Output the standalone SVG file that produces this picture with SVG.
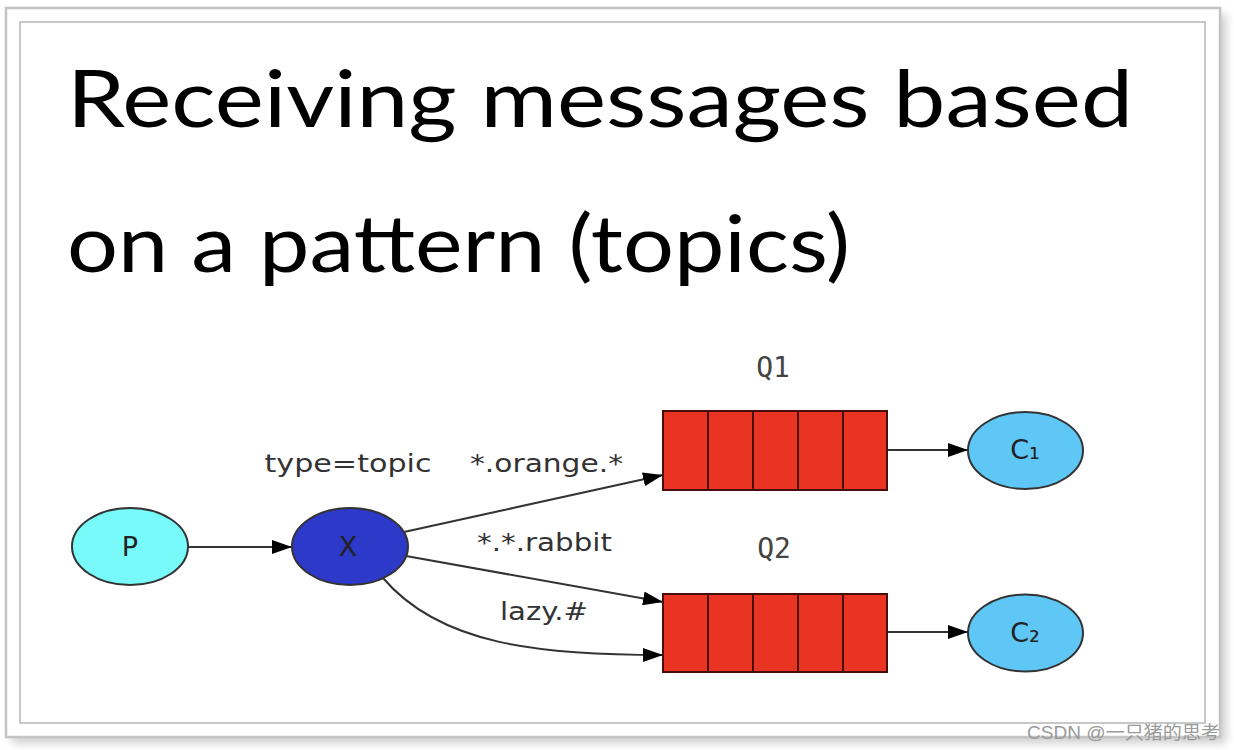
<svg xmlns="http://www.w3.org/2000/svg" width="1234" height="750" viewBox="0 0 1234 750">
  <defs>
    <filter id="shadow" x="-5%" y="-5%" width="110%" height="110%">
      <feGaussianBlur stdDeviation="5"/>
    </filter>
    <marker id="arrow" viewBox="0 0 20 14" refX="20" refY="7" markerWidth="20" markerHeight="14" markerUnits="userSpaceOnUse" orient="auto">
      <path d="M0,0 L20,7 L0,14 Z" fill="#000"/>
    </marker>
    <style>
      .frame { fill: none; stroke: #c8c8c8; stroke-width: 2; }
      .title { font-family: Lato, "Open Sans", sans-serif; font-size: 80px; fill: #000; }
      .lbl { font-family: "DejaVu Sans", sans-serif; font-size: 25px; fill: #333; }
      .nl { font-family: "DejaVu Sans", sans-serif; font-size: 27px; fill: #222; }
      .mono { font-family: "DejaVu Sans Mono", monospace; font-size: 28px; fill: #444; }
      .node { stroke: #333; stroke-width: 2; }
      .edge { fill: none; stroke: #333; stroke-width: 2; marker-end: url(#arrow); }
      .cell { fill: #e93323; stroke: #4a0e08; stroke-width: 2; }
    </style>
  </defs>
  <rect width="1234" height="750" fill="#fff"/>
  <rect x="12" y="14" width="1214" height="729" fill="#999" filter="url(#shadow)" opacity="0.5"/>
  <rect x="6" y="8" width="1214" height="729" fill="#fff" stroke="#c4c4c4" stroke-width="2.5"/>
  <rect x="20" y="22" width="1185" height="701" class="frame"/>

  <g id="title">
    <text class="title" x="67" y="127" textLength="1066" lengthAdjust="spacingAndGlyphs">Receiving messages based</text>
    <text class="title" x="67" y="272" textLength="783" lengthAdjust="spacingAndGlyphs">on a pattern (topics)</text>
  </g>

  <g id="connectors">
    <line class="edge" x1="188" y1="547" x2="292" y2="547"/>
    <line class="edge" x1="404" y1="532" x2="663" y2="475"/>
    <line class="edge" x1="406" y1="556" x2="663" y2="602"/>
    <path class="edge" d="M383,578 C440,645 540,655 663,655"/>
    <line class="edge" x1="887" y1="450" x2="968" y2="450"/>
    <line class="edge" x1="887" y1="632" x2="968" y2="632"/>
    <text class="lbl" x="470" y="472" textLength="153" lengthAdjust="spacingAndGlyphs">*.orange.*</text>
    <text class="lbl" x="477" y="551" textLength="135" lengthAdjust="spacingAndGlyphs">*.*.rabbit</text>
    <text class="lbl" x="500" y="620" textLength="88" lengthAdjust="spacingAndGlyphs">lazy.#</text>
  </g>

  <g id="node-P">
    <ellipse class="node" cx="130" cy="546.5" rx="58" ry="38.5" fill="#79fafa"/>
    <text class="nl" x="130" y="556" text-anchor="middle">P</text>
  </g>

  <g id="node-X">
    <ellipse class="node" cx="350" cy="546.5" rx="58" ry="38.5" fill="#2c39c9"/>
    <text class="nl" x="348" y="556" text-anchor="middle" fill="#111">X</text>
    <text class="lbl" x="348" y="472" text-anchor="middle" textLength="167" lengthAdjust="spacingAndGlyphs">type=topic</text>
  </g>

  <g id="node-Q1">
    <text class="mono" x="773" y="377" text-anchor="middle">Q1</text>
    <rect class="cell" x="663" y="411" width="45" height="79"/>
    <rect class="cell" x="708" y="411" width="45" height="79"/>
    <rect class="cell" x="753" y="411" width="45" height="79"/>
    <rect class="cell" x="798" y="411" width="45" height="79"/>
    <rect class="cell" x="843" y="411" width="44" height="79"/>
  </g>

  <g id="node-Q2">
    <text class="mono" x="774" y="558" text-anchor="middle">Q2</text>
    <rect class="cell" x="663" y="594" width="45" height="78"/>
    <rect class="cell" x="708" y="594" width="45" height="78"/>
    <rect class="cell" x="753" y="594" width="45" height="78"/>
    <rect class="cell" x="798" y="594" width="45" height="78"/>
    <rect class="cell" x="843" y="594" width="44" height="78"/>
  </g>

  <g id="node-C1">
    <ellipse class="node" cx="1025.5" cy="450.5" rx="57.5" ry="38.5" fill="#5fc7f6"/>
    <text class="nl" x="1025" y="459" text-anchor="middle">C₁</text>
  </g>

  <g id="node-C2">
    <ellipse class="node" cx="1025.5" cy="633" rx="57.5" ry="38.5" fill="#5fc7f6"/>
    <text class="nl" x="1025" y="642" text-anchor="middle">C₂</text>
  </g>

  <text x="1220" y="739" text-anchor="end" font-family="'Liberation Sans', 'Noto Sans CJK SC', sans-serif" font-size="18" fill="#9a9a9a" textLength="193" lengthAdjust="spacingAndGlyphs">CSDN @一只猪的思考</text>
</svg>
